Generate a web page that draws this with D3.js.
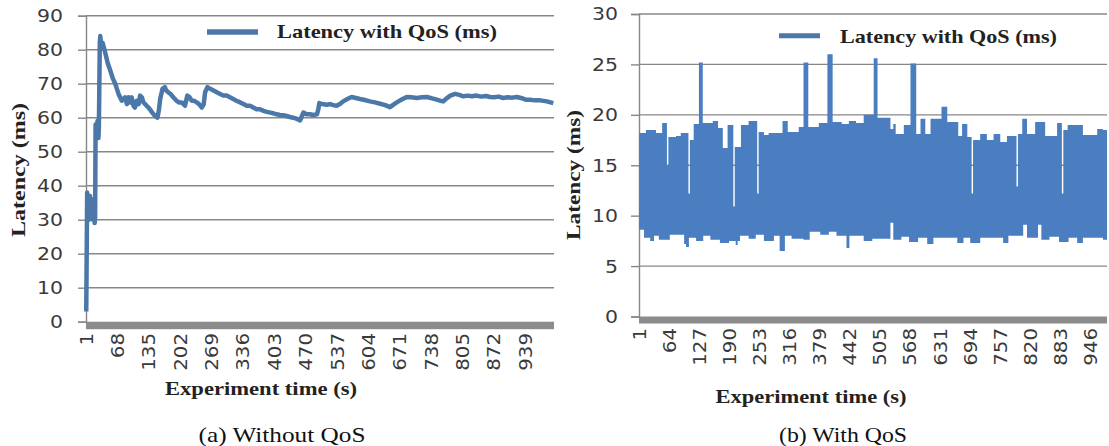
<!DOCTYPE html>
<html><head><meta charset="utf-8">
<script src="https://cdn.jsdelivr.net/npm/d3@7"></script>
<style>body{margin:0;background:#fff}svg{display:block}</style>
</head><body>
<script>
// ---------- data ----------
const leftTimes = [
  1,3,5,7,9,11,13,15,17,19,
  20,21,23,25,27,28,30,31,33,36,
  40,47,52,58,63,70,77,84,88,91,
  95,98,102,105,109,113,116,120,123,127,
  130,134,137,142,148,153,156,159,164,169,
  172,176,181,187,194,199,205,212,217,222,
  226,231,237,242,248,252,255,260,266,273,
  280,287,294,301,308,315,322,330,337,344,
  351,358,365,372,380,387,394,401,408,415,
  422,429,436,443,450,458,462,465,472,479,
  486,494,497,499,505,515,522,529,536,543,
  550,559,568,577,586,596,607,618,629,640,
  650,659,668,677,686,696,707,718,729,740,
  750,757,764,771,779,789,798,807,816,825,
  835,845,855,864,873,882,892,901,911,921,
  930,940,949,960,971,985,999];
const leftLatency = [
  3,38,35,30,37,31,36,30,34,29,
  31,58,54,59,54,57,82,84,81,82,
  80,76,74,71.5,70,67,65,66,64,66,
  64.5,66,63.5,63,65,64,66.5,66,64.5,64,
  63.5,63,62.5,61.5,60.5,60,62,65.5,68.5,69,
  68,67.5,67,66,65,64.5,64.5,63.5,66.5,66,
  65,65,64.5,64,63,64,67.5,69,68.5,68,
  67.5,67,66.5,66.5,66,65.5,65,64.5,64,63.5,
  63.5,63,62.5,62.5,62,61.7,61.5,61.3,61,60.8,
  60.7,60.5,60.2,60,59.7,59.2,60.5,61.5,61,61,
  60.8,61,62.5,64.3,64,63.8,64,63.7,63.5,64,
  64.8,65.5,66.1,65.8,65.5,65.2,64.8,64.5,64.1,63.7,
  63.1,64,64.8,65.5,66.1,66,65.8,66,66.1,65.7,
  65.3,65,64.8,65.7,66.5,67,66.7,66.3,66.5,66.3,
  66.5,66.2,66.4,66.1,66,66.2,65.8,66,65.9,66.1,
  65.8,65.3,65.3,65.1,65.1,64.8,64.3];

// right chart: upper and lower envelope of the dense latency trace (step changes)
const rightUpperTimes = [
  1,15,36,49,59,62,78,88,104,107,
  115,126,134,155,166,176,186,198,201,214,
  230,248,251,262,272,301,312,335,345,355,
  377,395,406,425,440,455,471,492,500,527,
  533,538,555,569,581,590,600,611,634,646,
  669,677,688,697,700,715,729,743,757,771,
  791,794,803,813,830,851,876,886,889,898,
  930,960,972];
const rightUpperValues = [
  18.2,18.5,18.2,19.2,15.0,17.8,17.9,18.2,12.2,17.5,
  19.1,25.2,19.2,19.4,18.7,16.7,19.0,10.9,16.8,19.0,
  19.4,12.2,18.3,18.0,18.2,19.4,18.3,18.8,25.2,18.8,
  19.2,26.0,19.3,19.1,19.4,19.2,20.0,25.6,19.7,18.6,
  19.1,18.1,19.0,25.1,18.1,19.6,18.1,19.6,20.8,19.3,
  17.9,19.1,17.8,12.2,17.5,18.1,17.5,18.1,17.3,17.9,
  12.9,18.1,19.6,18.1,19.3,17.9,19.2,12.2,18.5,19.0,
  18.0,18.6,18.5];
const rightLowerTimes = [
  1,11,24,32,42,53,65,95,99,105,
  120,135,150,170,189,203,207,212,230,245,
  262,283,295,306,320,345,358,380,398,414,
  435,441,471,489,527,533,550,566,585,604,
  617,667,680,694,715,763,774,805,813,836,
  843,860,880,900,918,930,972];
const rightLowerValues = [
  8.6,7.8,7.5,8.0,7.6,7.6,8.1,7.2,6.9,7.8,
  7.5,8.0,7.6,7.3,7.5,7.1,7.5,8.0,7.7,8.1,
  7.5,8.0,6.5,8.0,7.7,7.6,8.4,8.1,8.4,8.0,
  6.8,8.0,7.5,7.7,9.3,7.6,7.9,7.4,7.8,7.2,
  7.8,7.3,7.8,7.3,7.8,7.3,8.0,9.1,7.8,9.1,
  7.6,7.9,7.4,7.8,7.3,7.8,7.6];

const leftXTicks = [1,68,135,202,269,336,403,470,537,604,671,738,805,872,939];
const rightXTicks = [1,64,127,190,253,316,379,442,505,568,631,694,757,820,883,946];
const leftYTicks = [0,10,20,30,40,50,60,70,80,90];
const rightYTicks = [0,5,10,15,20,25,30];
const legendLabel = "Latency with QoS (ms)";
const yTitle = "Latency (ms)";
const xTitle = "Experiment time (s)";
const captions = ["(a) Without QoS", "(b) With QoS"];

// ---------- drawing ----------
const W = 1109, H = 446;
const svg = d3.select("body").append("svg").attr("width", W).attr("height", H);
const gridColor = "#878787", lineColor = "#4b78a9", bandColor = "#4a7ec0";

function txt(g, s, x, y, o) {
  const t = g.append("text").attr("x", x).attr("y", y).text(s)
    .attr("font-family", o.family || "DejaVu Sans")
    .attr("font-size", o.size || 18)
    .attr("font-weight", o.weight || "normal")
    .attr("fill", o.fill || "#333")
    .attr("text-anchor", o.anchor || "start");
  if (o.len) t.attr("textLength", o.len).attr("lengthAdjust", "spacingAndGlyphs");
  if (o.rotate) t.attr("transform", `rotate(${o.rotate},${x},${y})`);
  if (o.dy) t.attr("dy", o.dy);
  return t;
}

function frame(cfg) {
  const g = svg.append("g");
  const { x, y } = cfg;
  const [x0, x1] = x.range();
  g.selectAll("line.grid").data(cfg.yTicks.filter(d => d > 0)).join("line")
    .attr("x1", x0).attr("x2", x1).attr("y1", d => y(d)).attr("y2", d => y(d))
    .attr("stroke", gridColor).attr("stroke-width", 1.4);
  const ya = g.append("g").attr("transform", `translate(${x0},0)`)
    .call(d3.axisLeft(y).tickValues(cfg.yTicks).tickSize(8).tickFormat(""));
  ya.select(".domain").attr("stroke", gridColor).attr("stroke-width", 1.4);
  ya.selectAll(".tick line").attr("stroke", gridColor).attr("stroke-width", 1.4);
  cfg.yTicks.forEach(d => {
    const s = String(d);
    txt(g, s, cfg.yLabelRight, y(d), { size: 18, anchor: "end", len: s.length * 13, dy: "0.36em", fill: "#3a3a3a" });
  });
  return g;
}

function xAxis(g, cfg) {
  const { x, y } = cfg;
  const [x0, x1] = x.range();
  const base = y(0);
  g.append("rect").attr("x", x0).attr("y", base).attr("width", x1 - x0).attr("height", cfg.bandH)
    .attr("fill", "#8b8b8b");
  const ax = g.append("g").attr("transform", `translate(0,${base + cfg.bandH})`)
    .call(d3.axisBottom(x).tickValues(cfg.xTicks).tickSize(0).tickFormat(""));
  ax.select(".domain").remove();
  cfg.xTicks.forEach(d => {
    const s = String(d);
    txt(g, s, x(d), cfg.xLabelTop, { size: 18, anchor: "end", rotate: -90, len: s.length * 12.6, dy: "0.36em", fill: "#3a3a3a" });
  });
}

// ----- left chart -----
const xL = d3.scaleLinear().domain([0.5, 1000.5]).range([86, 554]);
const yL = d3.scaleLinear().domain([0, 90]).range([321.7, 15.7]);
const cfgL = { x: xL, y: yL, yTicks: leftYTicks, xTicks: leftXTicks, yLabelRight: 63, bandH: 7.5, xLabelTop: 333 };
const gL = frame(cfgL);
const leftData = leftTimes.map((t, i) => [t, leftLatency[i]]);
gL.append("path").datum(leftData)
  .attr("d", d3.line().x(d => xL(d[0])).y(d => yL(d[1])))
  .attr("fill", "none").attr("stroke", lineColor).attr("stroke-width", 4.5)
  .attr("stroke-linejoin", "round");
xAxis(gL, cfgL);
gL.append("line").attr("x1", 207).attr("x2", 258).attr("y1", 32).attr("y2", 32)
  .attr("stroke", lineColor).attr("stroke-width", 5.5);
txt(gL, legendLabel, 277, 37.5, { family: "Liberation Serif", weight: "bold", size: 19, len: 220, fill: "#222" });
txt(gL, yTitle, 25, 170, { family: "Liberation Serif", weight: "bold", size: 18, anchor: "middle", rotate: -90, len: 134, fill: "#222" });
txt(gL, xTitle, 261, 395, { family: "Liberation Serif", weight: "bold", size: 18, anchor: "middle", len: 192, fill: "#222" });
txt(gL, captions[0], 282, 442, { family: "Liberation Serif", size: 21, anchor: "middle", len: 167, fill: "#111" });

// ----- right chart -----
const xR = d3.scaleLinear().domain([0.5, 980.5]).range([639, 1107]);
const yR = d3.scaleLinear().domain([0, 30]).range([316.5, 14]);
const cfgR = { x: xR, y: yR, yTicks: rightYTicks, xTicks: rightXTicks, yLabelRight: 618, bandH: 7, xLabelTop: 328 };
const gR = frame(cfgR);
function stepLookup(times, vals, t) {
  const i = Math.max(0, d3.bisectRight(times, t) - 1);
  return vals[i];
}
const allTimes = Array.from(new Set(rightUpperTimes.concat(rightLowerTimes))).sort((a, b) => a - b);
allTimes.push(980.5);
const band = allTimes.map(t => ({
  t, hi: stepLookup(rightUpperTimes, rightUpperValues, t), lo: stepLookup(rightLowerTimes, rightLowerValues, t)
}));
band[0].t = 0.5;
gR.append("path").datum(band)
  .attr("d", d3.area().curve(d3.curveStepAfter).x(d => xR(d.t)).y0(d => yR(d.lo)).y1(d => yR(d.hi)))
  .attr("fill", bandColor).attr("stroke", "none");
xAxis(gR, cfgR);
gR.append("line").attr("x1", 779).attr("x2", 820).attr("y1", 35.7).attr("y2", 35.7)
  .attr("stroke", lineColor).attr("stroke-width", 5);
txt(gR, legendLabel, 840, 42.7, { family: "Liberation Serif", weight: "bold", size: 19, len: 217, fill: "#222" });
txt(gR, yTitle, 580, 175, { family: "Liberation Serif", weight: "bold", size: 18, anchor: "middle", rotate: -90, len: 130, fill: "#222" });
txt(gR, xTitle, 811, 403, { family: "Liberation Serif", weight: "bold", size: 18, anchor: "middle", len: 191, fill: "#222" });
txt(gR, captions[1], 843, 442, { family: "Liberation Serif", size: 21, anchor: "middle", len: 128, fill: "#111" });
</script>
</body></html>
